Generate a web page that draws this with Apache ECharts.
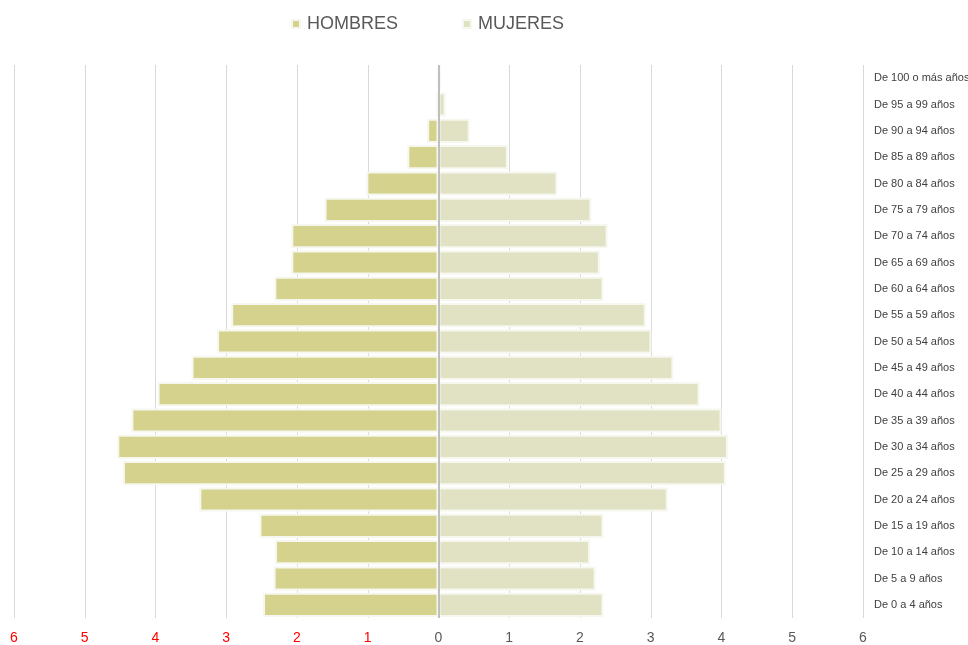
<!DOCTYPE html>
<html>
<head>
<meta charset="utf-8">
<script src="https://cdn.jsdelivr.net/npm/echarts@6/dist/echarts.min.js"></script>
<style>
  html, body { margin: 0; padding: 0; background: #fff; }
  #chart { width: 968px; height: 645px; }
</style>
</head>
<body>
<div id="chart"></div>
<script>
// grupos de edad, de abajo hacia arriba
const ageGroups = [
  "De 0 a 4 años", "De 5 a 9 años", "De 10 a 14 años", "De 15 a 19 años",
  "De 20 a 24 años", "De 25 a 29 años", "De 30 a 34 años", "De 35 a 39 años",
  "De 40 a 44 años", "De 45 a 49 años", "De 50 a 54 años", "De 55 a 59 años",
  "De 60 a 64 años", "De 65 a 69 años", "De 70 a 74 años", "De 75 a 79 años",
  "De 80 a 84 años", "De 85 a 89 años", "De 90 a 94 años", "De 95 a 99 años",
  "De 100 o más años"
];

// porcentajes (hombres a la izquierda)
const hombres = [2.48, 2.33, 2.31, 2.53, 3.38, 4.46, 4.54, 4.34, 3.97, 3.49, 3.13,
                 2.93, 2.32, 2.08, 2.08, 1.61, 1.02, 0.44, 0.16, 0.03, 0];
const mujeres = [2.33, 2.22, 2.14, 2.33, 3.24, 4.06, 4.09, 4.00, 3.69, 3.32, 3.01,
                 2.93, 2.33, 2.28, 2.39, 2.16, 1.68, 0.98, 0.44, 0.10, 0.03];

const xMin = -6, xMax = 6, xStep = 1;

const chart = echarts.init(document.getElementById("chart"));

const option = {
  animation: false,
  legend: {
    top: 10,
    left: 286,
    itemGap: 64,
    itemWidth: 8,
    itemHeight: 8,
    icon: "rect",
    textStyle: { color: "#595959", fontSize: 18, fontFamily: "Liberation Sans", padding: [0, 0, 0, 2] },
    data: ["HOMBRES", "MUJERES"]
  },
  grid: { top: 65, bottom: 27, left: 14, right: 105, outerBoundsMode: "none", containLabel: false },
  xAxis: {
    type: "value",
    min: xMin,
    max: xMax,
    interval: xStep,
    axisLine: { show: false },
    axisTick: { show: false },
    splitLine: { lineStyle: { color: "#d9d9d9", width: 1 } },
    axisLabel: {
      margin: 13,
      fontSize: 14,
      fontFamily: "Liberation Sans",
      formatter: v => Math.abs(v),
      color: v => (v < 0 ? "#ff0000" : "#595959")
    }
  },
  yAxis: {
    type: "category",
    position: "right",
    data: ageGroups,
    axisLine: { show: false },
    axisTick: { show: false },
    splitLine: { show: false },
    axisLabel: {
      margin: 11,
      fontSize: 11,
      fontFamily: "Liberation Sans",
      color: "#404040"
    }
  },
  series: [
    {
      name: "HOMBRES",
      type: "bar",
      barGap: "-100%",
      barCategoryGap: "8%",
      data: hombres.map(v => -v),
      itemStyle: { color: "#d4d28c", borderColor: "#f6f7ee", borderWidth: 2 },
      // línea central en el cero
      markLine: {
        silent: true,
        symbol: ["none", "none"],
        label: { show: false },
        lineStyle: { color: "#bfbfbf", width: 2, type: "solid" },
        data: [{ xAxis: 0 }]
      }
    },
    {
      name: "MUJERES",
      type: "bar",
      barGap: "-100%",
      barCategoryGap: "8%",
      data: mujeres,
      itemStyle: { color: "#e1e1c3", borderColor: "#f6f7ee", borderWidth: 2 }
    }
  ]
};

chart.setOption(option);
</script>
</body>
</html>
